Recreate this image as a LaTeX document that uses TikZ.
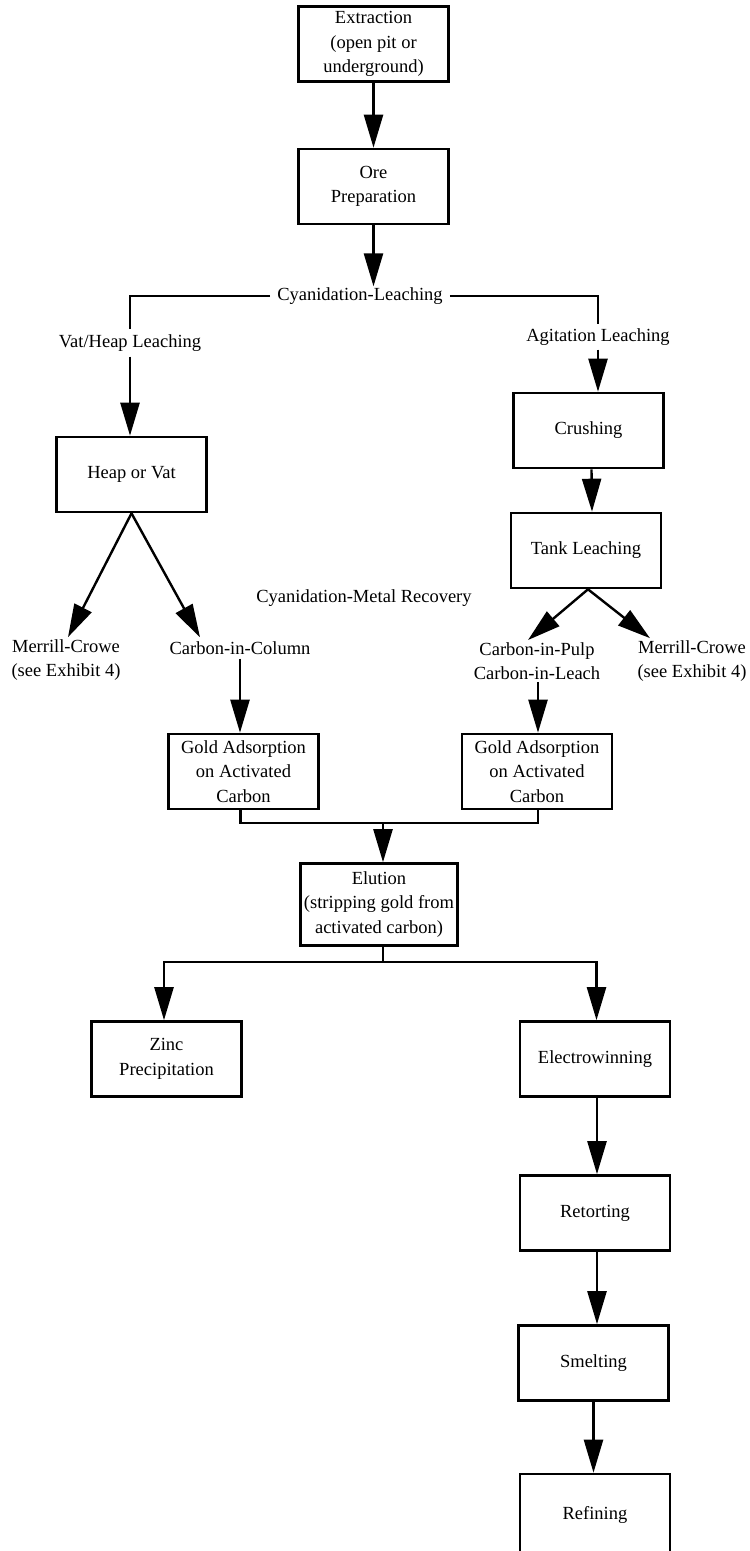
\documentclass[tikz,border=0pt]{standalone}
\usepackage{fontspec}
\setmainfont{Liberation Serif}
\usetikzlibrary{arrows.meta}
\newcommand\flowfont{\fontsize{18.5}{24.5}\selectfont}
\begin{document}
\begin{tikzpicture}[x=1pt,y=-1pt,
  stage/.style={draw, line width=2.6pt, minimum width=150pt, minimum height=75pt,
                align=center, inner sep=2pt, font=\flowfont},
  label/.style={align=center, inner xsep=6pt, inner ysep=3pt, font=\flowfont},
  link/.style={line width=2.4pt},
  flow/.style={link, -{Triangle[length=33pt,width=19pt]}}]
\path[use as bounding box] (0,0) rectangle (750,1551);
\clip (0,0) rectangle (750,1551);

% process boxes
\node[stage] (extr)    at (373.5,44)    {Extraction\\(open pit or\\underground)};
\node[stage] (ore)     at (373.5,186.5) {Ore\\Preparation};
\node[stage] (heap)    at (131.5,474.5) {Heap or Vat};
\node[stage] (crush)   at (588.5,430.5) {Crushing};
\node[stage] (tank)    at (586,550.5)   {Tank Leaching};
\node[stage] (gold1)   at (243.5,771.5) {Gold Adsorption\\on Activated\\Carbon};
\node[stage] (gold2)   at (537,771.5)   {Gold Adsorption\\on Activated\\Carbon};
\node[stage, minimum width=157pt, minimum height=82pt] (elu) at (379,904.5)
      {Elution\\(stripping gold from\\activated carbon)};
\node[stage] (zinc)    at (166.5,1059)  {Zinc\\Precipitation};
\node[stage] (electro) at (595,1059)    {Electrowinning};
\node[stage] (retort)  at (595,1213)    {Retorting};
\node[stage] (smelt)   at (593.5,1363)  {Smelting};
\node[stage, minimum height=82pt] (refine) at (595,1515) {Refining};

% free labels
\node[label, inner xsep=7pt, inner ysep=1pt] (cyl) at (360,296) {Cyanidation-Leaching};
\node[label, inner ysep=5pt] (vat)  at (130,343) {Vat/Heap Leaching};
\node[label, inner ysep=4pt] (agit) at (598,337) {Agitation Leaching};
\node[label, inner ysep=2pt] (mcl)  at (66,660)  {Merrill-Crowe\\(see Exhibit 4)};
\node[label, inner ysep=4pt] (cic)  at (240,648) {Carbon-in-Column};
\node[label] (cmr) at (364,598) {Cyanidation-Metal Recovery};
\node[label, inner ysep=2pt] (cip)  at (537,661) {Carbon-in-Pulp\\Carbon-in-Leach};
\node[label, inner ysep=2pt] (mcr)  at (692,661) {Merrill-Crowe\\(see Exhibit 4)};

% junction points
\coordinate (merge) at (383,823);
\coordinate (split) at (383,962);

% top chain
\draw[flow] (extr.south) -- (ore.north);
\draw[flow] (ore.south) -- (ore.south |- cyl.north);

% leaching branches
\draw[link] (cyl.west) -| (vat.north);
\draw[flow] (vat.south) -- (vat.south |- heap.north);
\draw[link] (cyl.east) -| (agit.north);
\draw[flow] (agit.south) -- (agit.south |- crush.north);
\draw[flow] ([xshift=3pt]crush.south) -- ([xshift=6pt]tank.north);

% recovery routes
\draw[flow] (heap.south) -- ([xshift=2pt]mcl.north);
\draw[flow] (heap.south) -- ([xshift=-40pt]cic.north);
\draw[flow] ([xshift=2pt]tank.south) -- ([xshift=-9pt]cip.north);
\draw[flow] ([xshift=2pt]tank.south) -- ([xshift=-42pt]mcr.north);
\draw[flow] (cic.south) -- (cic.south |- gold1.north);
\draw[flow] ([xshift=1pt]cip.south) -- ([xshift=1pt]cip.south |- gold2.north);

% adsorption merge into elution
\draw[link] ([xshift=-3pt]gold1.south) |- ([xshift=1pt]gold2.south |- merge) -- ([xshift=1pt]gold2.south);
\draw[flow] (merge) -- (merge |- elu.north);

% elution split
\draw[link] (split |- elu.south) -- (split);
\draw[flow] (split) -| ([xshift=-2.5pt]zinc.north);
\draw[flow] (split) -| ([xshift=1.5pt]electro.north);

% refining chain
\draw[flow] ([xshift=2pt]electro.south) -- ([xshift=2pt]retort.north);
\draw[flow] ([xshift=2pt]retort.south) -- ([xshift=3.5pt]smelt.north);
\draw[flow] (smelt.south) -- ([xshift=-1.5pt]refine.north);
\end{tikzpicture}
\end{document}
